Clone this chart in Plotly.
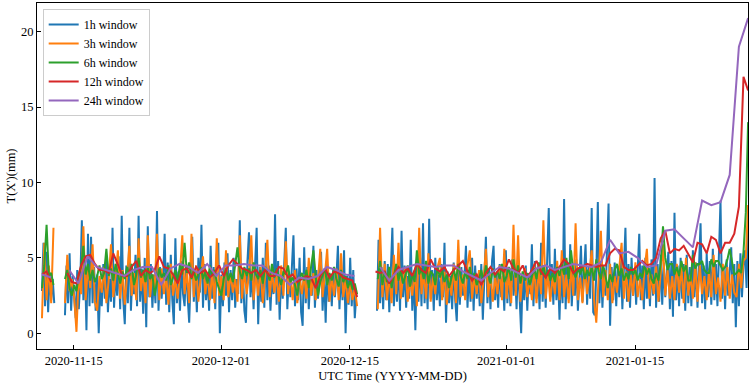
import pandas as pd
import plotly.graph_objects as go

# ---------------- data ----------------
series_names = ["1h window", "3h window", "6h window", "12h window", "24h window"]
series_colors = ["#1f77b4", "#ff7f0e", "#2ca02c", "#d62728", "#9467bd"]

# segment start times per series (three recording segments, gaps in between)
blue_starts = ["2020-11-11 13:00", "2020-11-14 01:00", "2020-12-17 23:00"]
orange_starts = ["2020-11-11 13:00", "2020-11-14 01:00", "2020-12-18 01:00"]
green_starts = ["2020-11-11 13:00", "2020-11-14 01:00", "2020-12-18 01:00"]
red_starts = ["2020-11-11 13:00", "2020-11-14 07:00", "2020-12-17 19:00"]
purple_starts = ["2020-11-11 13:00", "2020-11-14 12:00", "2020-12-18 07:00"]
sample_hours = [4, 6, 6, 12, 24]

blue_seg1 = [2.8, 6.0, 1.8, 5.4, 1.4, 4.0, 2.2, 3.6, 2.0]
blue_seg2 = [
    1.2, 4.5, 2.0, 5.3, 1.5, 3.8, 2.4, 1.0, 4.2, 1.6, 3.5, 7.5,
    2.2, 4.8, 0.2, 6.6, 1.8, 6.4, 2.0, 4.4, 1.5, 3.9, 0.0, 3.2,
    1.8, 4.6, 2.3, 5.0, 1.4, 3.6, 2.1, 7.0, 1.7, 4.2, 2.5, 5.1,
    1.6, 7.8, 2.2, 0.6, 4.5, 2.0, 7.0, 1.5, 4.0, 2.6, 5.2, 1.8,
    7.8, 2.1, 4.3, 1.3, 5.0, 0.4, 7.1, 2.4, 4.6, 1.7, 3.9, 2.0,
    8.1, 1.5, 4.4, 2.3, 3.6, 6.6, 1.9, 4.7, 1.4, 5.2, 2.2, 0.6,
    6.3, 2.0, 4.1, 1.5, 4.8, 2.6, 1.8, 4.5, 2.4, 0.7, 3.9, 6.4,
    2.1, 4.2, 1.4, 5.0, 2.7, 7.2, 1.7, 4.6, 2.2, 3.8, 1.5, 5.8,
    2.3, 4.4, 1.6, 5.2, 6.0, 0.0, 3.9, 1.8, 4.7, 2.5, 5.3, 1.4,
    4.2, 2.2, 5.0, 1.7, 3.6, 2.6, 7.5, 2.0, 4.3, 1.5, 0.7, 4.8,
    6.7, 2.4, 4.1, 1.6, 4.6, 7.0, 0.6, 4.4, 2.1, 5.0, 1.7, 6.0,
    2.2, 4.5, 1.5, 3.8, 2.6, 7.9, 1.9, 4.8, 0.9, 4.2, 2.3, 5.1,
    7.0, 1.6, 4.0, 2.4, 4.6, 6.5, 1.8, 4.3, 2.2, 5.0, 1.4, 0.5,
    5.7, 2.0, 4.4, 1.6, 3.8, 2.5, 5.8, 1.7, 4.2, 2.3, 3.6, 5.4,
    1.5, 4.0, 0.7, 4.6, 2.1, 3.9, 1.8, 4.3, 2.4, 3.7, 5.8, 1.6,
    4.1, 2.2, 5.5, 0.0, 3.8, 1.9, 5.0, 1.8, 4.2, 1.0, 2.6,
]
blue_seg3 = [
    1.5, 6.2, 2.0, 4.4, 1.6, 4.8, 2.2, 4.6, 1.4, 3.9, 7.0, 1.8,
    4.3, 2.1, 5.0, 1.5, 6.8, 2.4, 4.5, 1.7, 3.8, 2.3, 6.2, 1.5,
    4.0, 0.2, 4.6, 2.1, 5.2, 1.8, 7.3, 2.0, 4.4, 1.6, 7.6, 2.3,
    4.2, 1.5, 5.0, 2.2, 3.9, 1.8, 4.6, 2.4, 6.0, 0.7, 4.1, 2.0,
    3.8, 1.6, 4.7, 2.2, 0.8, 4.3, 1.9, 4.4, 2.5, 3.7, 5.8, 1.7,
    4.2, 2.1, 5.0, 1.5, 4.5, 2.3, 3.9, 1.8, 4.6, 0.9, 4.1, 6.4,
    2.0, 4.3, 1.6, 4.8, 5.8, 2.2, 4.0, 1.7, 4.6, 2.4, 3.8, 1.5,
    5.5, 2.0, 4.4, 1.8, 4.9, 2.5, 4.2, 1.6, 4.7, 2.1, 0.0, 3.9,
    2.2, 4.5, 1.5, 4.0, 2.6, 5.9, 1.8, 4.8, 2.3, 4.2, 1.6, 6.0,
    2.1, 4.4, 1.7, 5.0, 8.3, 2.4, 4.6, 1.9, 5.6, 2.2, 4.1, 0.9,
    4.4, 2.0, 8.9, 1.6, 4.7, 2.3, 5.9, 1.8, 4.2, 2.5, 4.9, 1.5,
    4.3, 5.8, 2.1, 4.6, 5.9, 1.9, 4.4, 2.3, 8.3, 1.4, 1.2, 4.0,
    8.7, 2.0, 4.8, 1.7, 4.3, 2.5, 5.0, 8.6, 0.5, 4.4, 2.2, 4.7,
    1.8, 4.5, 2.4, 5.1, 1.6, 4.2, 7.0, 2.1, 4.6, 1.7, 5.0, 2.5,
    4.3, 1.9, 4.8, 6.6, 2.2, 4.5, 1.6, 5.0, 2.3, 4.4, 1.8, 4.9,
    2.5, 10.3, 1.7, 4.6, 2.1, 5.2, 1.9, 4.7, 2.4, 4.3, 5.4, 1.6,
    4.8, 1.1, 8.0, 2.2, 4.5, 1.8, 5.0, 2.3, 4.6, 1.5, 5.2, 2.0,
    4.4, 1.8, 5.5, 2.4, 4.7, 1.7, 4.9, 7.3, 2.0, 4.5, 1.6, 5.3,
    2.4, 4.8, 1.9, 5.6, 2.2, 4.6, 1.8, 5.0, 8.8, 2.3, 4.4, 1.6,
    4.9, 2.5, 4.2, 5.7, 2.0, 4.6, 0.4, 4.8, 1.8, 5.3, 2.4, 4.5,
    5.5, 3.0, 7.0,
]

orange_seg1 = [1.0, 6.0, 2.2, 4.5, 2.0, 7.0]
orange_seg2 = [
    2.0, 5.2, 2.8, 3.6, 2.4, 0.1, 3.9, 2.6, 7.1, 2.2, 4.5, 3.0,
    5.9, 2.1, 1.5, 3.8, 2.7, 4.4, 2.0, 3.5, 5.9, 2.4, 3.8, 5.5,
    2.3, 4.2, 1.9, 3.6, 5.8, 2.5, 4.0, 2.2, 6.3, 2.8, 4.1, 2.0,
    6.5, 2.4, 3.9, 3.0, 6.6, 2.2, 4.3, 2.6, 3.8, 1.9, 4.6, 2.5,
    3.6, 2.3, 4.0, 6.5, 2.6, 4.2, 2.0, 6.6, 2.4, 4.5, 2.1, 3.7,
    5.1, 2.6, 3.9, 2.2, 4.1, 2.0, 6.3, 2.5, 3.8, 2.2, 5.5, 2.4,
    4.0, 2.7, 3.6, 2.1, 6.5, 2.3, 4.2, 2.6, 3.9, 6.5, 2.2, 4.0,
    2.5, 4.4, 2.0, 3.7, 6.2, 2.4, 4.1, 2.7, 3.8, 2.1, 4.5, 2.5,
    6.1, 2.6, 3.9, 2.2, 4.2, 2.0, 3.7, 2.6, 3.9, 2.3, 5.0, 2.5,
    4.0, 2.2, 3.6, 5.6, 2.4, 3.9, 5.6, 2.1, 3.8, 2.5, 4.3, 2.2,
    5.3, 2.4, 3.6, 2.0, 3.4, 2.2, 3.0, 1.8,
]
orange_seg3 = [
    1.6, 7.0, 2.4, 4.6, 2.2, 3.9, 2.0, 5.2, 2.6, 6.0, 2.3, 3.8,
    4.4, 2.1, 3.6, 2.5, 4.2, 1.8, 7.0, 2.6, 4.0, 2.3, 5.3, 2.1,
    3.8, 2.6, 4.4, 5.0, 2.2, 4.1, 1.9, 3.7, 2.5, 4.6, 2.0, 6.2,
    2.4, 3.9, 2.2, 4.5, 5.5, 2.3, 3.8, 2.6, 4.2, 2.0, 3.6, 5.6,
    2.4, 4.0, 2.1, 3.8, 2.6, 4.5, 2.2, 5.6, 2.3, 4.1, 2.0, 7.2,
    2.5, 6.5, 2.1, 3.9, 4.3, 2.4, 3.7, 2.2, 4.6, 2.0, 4.2, 2.6,
    7.5, 2.3, 4.0, 2.1, 3.8, 2.6, 4.8, 2.2, 5.5, 2.4, 3.9, 2.0,
    4.4, 2.5, 7.3, 2.2, 3.7, 2.0, 4.5, 2.6, 3.9, 5.5, 2.3, 0.7,
    3.6, 6.8, 2.4, 4.2, 2.2, 4.6, 2.0, 3.8, 2.7, 4.4, 6.0, 2.3,
    4.1, 2.1, 3.9, 2.5, 4.7, 2.4, 3.6, 2.2, 4.3, 5.6, 2.3, 3.9,
    2.6, 4.5, 2.1, 4.0, 5.9, 2.5, 4.2, 2.3, 3.8, 2.2, 4.6, 2.7,
    4.4, 2.0, 5.0, 2.5, 3.9, 2.3, 4.7, 2.1, 4.5, 2.6, 3.8, 2.2,
    4.2, 2.4, 5.2, 2.6, 3.7, 2.1, 4.6, 2.5, 4.4, 2.3, 3.9, 2.7,
    2.4, 4.6, 3.0, 4.8, 5.0, 8.5,
]

green_seg1 = [3.0, 4.5, 7.2, 3.8, 4.0, 3.2]
green_seg2 = [
    3.6, 4.2, 3.0, 2.5, 3.2, 2.8, 3.9, 4.4, 5.8, 3.9, 4.6, 3.5,
    4.2, 3.4, 3.8, 4.5, 3.6, 4.0, 5.6, 3.8, 4.3, 3.5, 4.6, 3.9,
    3.3, 4.1, 3.6, 4.4, 3.8, 4.6, 3.2, 3.9, 5.0, 3.7, 4.2, 3.4,
    4.4, 3.6, 3.9, 2.5, 3.4, 4.3, 3.7, 4.0, 3.5, 4.5, 3.2, 3.8,
    4.2, 3.4, 4.6, 3.9, 6.0, 4.0, 4.7, 3.6, 4.2, 3.5, 3.9, 4.4,
    3.6, 4.1, 3.3, 4.5, 3.8, 4.2, 3.4, 3.0, 2.5, 3.6, 4.3, 3.5,
    4.0, 3.4, 4.5, 5.7, 4.1, 3.6, 4.4, 3.8, 4.3, 3.5, 4.7, 3.9,
    3.6, 4.2, 3.3, 4.4, 4.0, 3.5, 4.6, 3.7, 4.3, 3.8, 3.2, 4.1,
    3.9, 4.5, 3.4, 3.7, 3.2, 2.5, 3.6, 4.0, 3.5, 4.2, 3.0, 4.4,
    5.5, 3.8, 2.5, 3.4, 3.9, 4.3, 3.2, 4.0, 3.5, 4.4, 3.6, 3.1,
    4.2, 3.4, 3.8, 3.0, 3.5, 2.9, 3.3, 2.6,
]
green_seg3 = [
    3.6, 4.8, 3.2, 4.1, 3.4, 4.4, 3.0, 3.9, 4.6, 3.5, 4.2, 3.3,
    3.8, 4.5, 3.1, 4.0, 3.4, 5.5, 3.9, 4.3, 3.6, 4.8, 3.3, 4.1,
    3.9, 3.2, 4.4, 3.7, 4.2, 3.4, 3.9, 3.0, 3.7, 4.3, 3.5, 4.6,
    3.8, 3.3, 4.1, 3.6, 4.4, 3.5, 4.0, 3.2, 3.6, 4.2, 3.4, 4.5,
    3.9, 3.3, 4.3, 3.7, 4.1, 3.6, 4.6, 3.4, 3.8, 4.4, 3.5, 4.9,
    3.7, 4.5, 3.3, 4.1, 3.5, 4.0, 3.2, 3.8, 4.3, 3.6, 4.7, 3.9,
    4.5, 3.7, 4.2, 3.5, 4.0, 3.4, 4.4, 3.8, 4.6, 3.9, 5.0, 3.6,
    5.5, 4.1, 3.7, 4.3, 3.9, 4.5, 3.6, 4.2, 3.8, 4.4, 3.5, 4.9,
    4.1, 3.6, 4.5, 3.8, 3.0, 3.9, 3.4, 4.2, 4.6, 3.8, 4.3, 3.5,
    4.0, 3.6, 4.4, 3.9, 4.2, 3.5, 4.0, 3.7, 4.6, 3.9, 4.3, 3.6,
    3.3, 4.0, 3.5, 4.6, 7.1, 5.0, 4.2, 4.6, 4.6, 3.9, 4.4, 3.8,
    4.8, 4.1, 4.5, 3.5, 3.5, 5.2, 4.3, 4.6, 4.6, 4.8, 4.2, 4.0,
    4.0, 4.9, 4.4, 4.8, 4.8, 4.5, 4.2, 4.4, 4.9, 5.6, 4.6, 3.9,
    4.0, 4.2, 4.0, 5.4, 8.0, 14.0,
]

red_seg1 = [3.9, 4.1, 3.4]
red_seg2 = [
    4.0, 3.4, 3.3, 4.5, 5.1, 5.2, 4.6, 4.2, 4.2, 4.0, 5.3, 4.6,
    3.8, 3.8, 4.4, 4.8, 3.8, 4.2, 4.0, 4.2, 5.1, 4.4, 4.3, 3.9,
    3.3, 4.2, 4.3, 3.7, 4.4, 4.0, 4.2, 3.7, 4.0, 4.5, 3.8, 4.5,
    4.9, 4.6, 4.3, 4.2, 4.0, 4.2, 3.8, 4.2, 3.8, 3.8, 4.4, 4.3,
    3.7, 3.9, 3.4, 3.6, 3.8, 3.7, 3.0, 3.8, 4.3, 3.7, 4.1, 4.0,
    3.7, 3.6, 3.5, 2.4,
]
red_seg3 = [
    4.1, 4.0, 4.1, 3.3, 3.9, 4.4, 4.0, 4.3, 3.8, 4.6, 4.2, 4.0,
    4.9, 4.3, 4.1, 4.4, 3.8, 4.2, 4.5, 4.8, 4.1, 3.5, 3.9, 3.2,
    4.0, 4.4, 3.9, 4.3, 4.1, 4.9, 4.3, 4.0, 4.5, 3.7, 4.2, 4.8,
    4.1, 3.7, 4.3, 4.0, 4.4, 4.9, 4.6, 4.0, 4.3, 4.4, 4.6, 4.5,
    4.4, 4.5, 4.5, 5.3, 5.6, 5.5, 4.4, 4.2, 4.2, 4.5, 4.8, 4.5,
    4.6, 5.0, 6.3, 6.8, 5.3, 5.6, 5.5, 5.8, 5.2, 4.7, 6.0, 5.9,
    5.3, 6.4, 6.2, 5.3, 6.0, 6.0, 6.6, 8.4, 17.0, 16.1,
]

purple_seg1 = [3.9, 3.7]
purple_seg2 = [
    4.2, 3.3, 5.1, 4.4, 4.2, 4.0, 3.8, 4.2, 4.4, 4.4, 3.2, 4.3,
    4.6, 4.4, 4.0, 4.6, 3.8, 4.5, 4.5, 4.6, 4.5, 4.5, 4.0, 3.8,
    3.2, 3.7, 3.6, 3.8, 4.4, 4.2, 3.9, 3.8,
]
purple_seg3 = [
    4.4, 3.5, 4.2, 4.4, 4.6, 4.5, 4.4, 4.5, 4.5, 4.1, 3.8, 3.5,
    4.0, 4.4, 4.3, 4.0, 3.7, 4.3, 4.5, 4.2, 4.4, 4.6, 4.5, 4.4,
    4.7, 6.2, 5.3, 5.4, 5.0, 4.4, 4.5, 6.8, 6.9, 6.3, 5.7, 8.8,
    8.5, 8.7, 10.5, 19.0, 20.9,
]

x_tick_labels = ["2020-11-15", "2020-12-01", "2020-12-15", "2021-01-01", "2021-01-15"]
y_tick_values = [0, 5, 10, 15, 20]
x_range = ["2020-11-11 00:00", "2021-01-27 06:45"]
y_range = [-1.04, 21.9]

series_segments = [
    (blue_starts, [blue_seg1, blue_seg2, blue_seg3]),
    (orange_starts, [orange_seg1, orange_seg2, orange_seg3]),
    (green_starts, [green_seg1, green_seg2, green_seg3]),
    (red_starts, [red_seg1, red_seg2, red_seg3]),
    (purple_starts, [purple_seg1, purple_seg2, purple_seg3]),
]


def build(starts, segs, hours):
    xs, ys = [], []
    for start, vals in zip(starts, segs):
        t = pd.date_range(start, periods=len(vals), freq=pd.Timedelta(hours=hours))
        xs += list(t)
        ys += list(vals)
        xs.append(t[-1])
        ys.append(None)
    return xs, ys


FONT = "Liberation Serif, Times New Roman, serif"

fig = go.Figure()
for name, color, hours, (starts, segs) in zip(series_names, series_colors, sample_hours, series_segments):
    xs, ys = build(starts, segs, hours)
    fig.add_trace(go.Scatter(
        x=xs, y=ys, mode="lines", name=name,
        line=dict(color=color, width=2.0),
        connectgaps=False,
    ))

fig.update_layout(
    width=754, height=384,
    margin=dict(l=37, r=6, t=3, b=35, pad=0),
    paper_bgcolor="white", plot_bgcolor="white",
    font=dict(family=FONT, size=12.5, color="black"),
    showlegend=True,
    legend=dict(
        x=0.008, y=0.983, xanchor="left", yanchor="top",
        bgcolor="rgba(255,255,255,0.85)", bordercolor="#cccccc", borderwidth=1,
        font=dict(family=FONT, size=12, color="black"),
        itemwidth=30, tracegroupgap=0,
    ),
)
fig.update_xaxes(
    type="date", range=x_range,
    tickvals=x_tick_labels, ticktext=x_tick_labels,
    ticks="inside", ticklen=4, tickwidth=1, tickcolor="black",
    showline=True, linecolor="black", linewidth=1, mirror=True,
    showgrid=False, zeroline=False, automargin=False,
    title=dict(text="UTC Time (YYYY-MM-DD)", standoff=4, font=dict(family=FONT, size=12.5)),
)
fig.update_yaxes(
    range=y_range, tickvals=y_tick_values,
    ticks="inside", ticklen=4, tickwidth=1, tickcolor="black",
    showline=True, linecolor="black", linewidth=1, mirror=True,
    showgrid=False, zeroline=False, automargin=False,
    title=dict(text="T(X')(mm)", standoff=2, font=dict(family=FONT, size=12.5)),
)

fig.write_html(
    "out.html",
    config={"displayModeBar": False},
    post_script="document.body.style.margin='0';document.body.style.padding='0';",
)
